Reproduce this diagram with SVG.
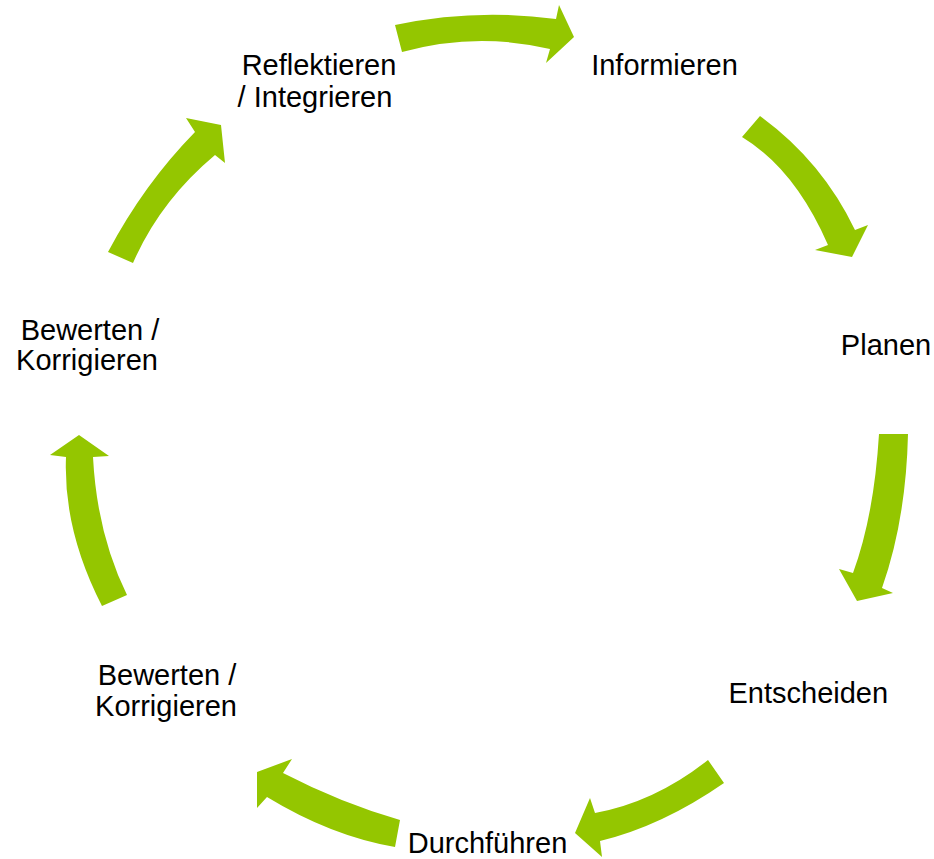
<svg xmlns="http://www.w3.org/2000/svg" width="934" height="859" viewBox="0 0 934 859">
<style>
.arrow{fill:#94C600;stroke:none}
.lbl{font-family:"Liberation Sans",Arial,sans-serif;font-size:29px;fill:#000;text-anchor:middle}
</style>
<rect width="934" height="859" fill="#fff"/>
<g id="connectors">
<path class="arrow" d="M395,25 L402,52 Q476,31.5 550,49 L546,63 L574,37 L559,5 L556,19 Q475,8 395,25 Z"/>
<path class="arrow" d="M760,116 L742,137 Q795,169 828,245 L815,250 L852,257 L868,225 L855,230 Q822,161 760,116 Z"/>
<path class="arrow" d="M879,434 L908,434 Q906,520 882,588 L893,593 L857,601 L839,569 L853,573 Q874,516 879,434 Z"/>
<path class="arrow" d="M708,760 L724,783 Q662,826 600,841 L602,857 L575,833 L590,798 L595,813 Q655,802 708,760 Z"/>
<path class="arrow" d="M400,820 L395,847 Q331,836 267,797 L257,808 L257,772 L292,759 L283,773 Q341,803 400,820 Z"/>
<path class="arrow" d="M127,595 L102,606 Q63,530 66,457 L50,455 L79,435 L109,456 L93,457 Q97,534 127,595 Z"/>
<path class="arrow" d="M108,252 L133,263 Q160,201 215,155 L225,163 L221,125 L186,118 L195,132 Q144,184 108,252 Z"/>
</g>
<g id="node-informieren"><text class="lbl" x="664.5" y="75">Informieren</text></g>
<g id="node-planen"><text class="lbl" x="886" y="354.5">Planen</text></g>
<g id="node-entscheiden"><text class="lbl" x="808.3" y="703">Entscheiden</text></g>
<g id="node-durchfuehren"><text class="lbl" x="487.5" y="853">Durchführen</text></g>
<g id="node-bewerten-unten"><text class="lbl" x="167" y="685">Bewerten /</text><text class="lbl" x="166" y="716">Korrigieren</text></g>
<g id="node-bewerten-links"><text class="lbl" x="90" y="340">Bewerten /</text><text class="lbl" x="87" y="370">Korrigieren</text></g>
<g id="node-reflektieren"><text class="lbl" x="319" y="75">Reflektieren</text><text class="lbl" x="315" y="106.5">/ Integrieren</text></g>
</svg>
